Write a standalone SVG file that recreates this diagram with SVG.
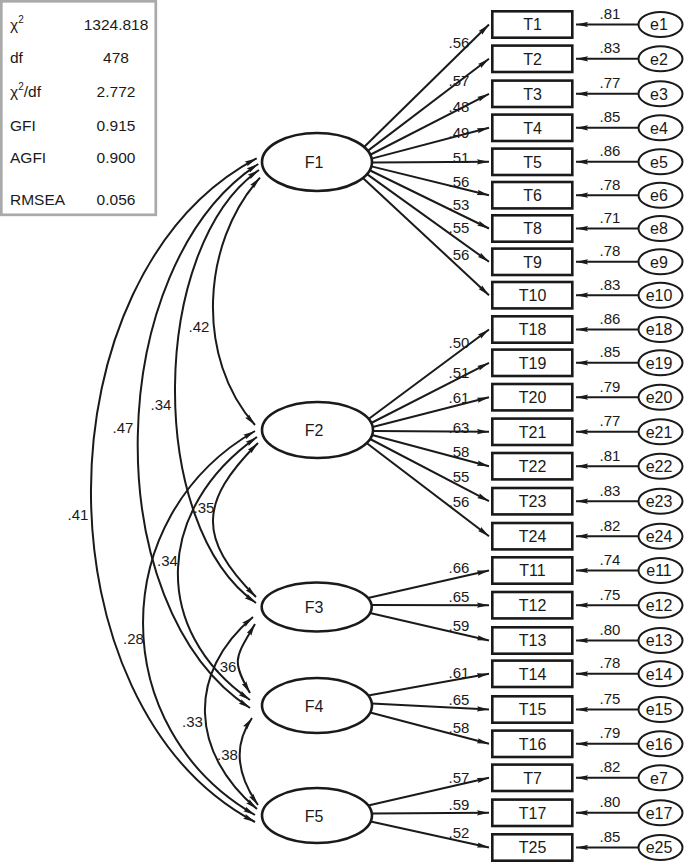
<svg xmlns="http://www.w3.org/2000/svg" width="685" height="863" viewBox="0 0 685 863">
<style>
text{font-family:"Liberation Sans",Arial,sans-serif;fill:#1a1a1a}
.lbl{font-size:16px;text-anchor:middle}
.coef{font-size:15px;text-anchor:middle}
.st{font-size:15.5px}
.box{fill:#fff;stroke:#1a1a1a;stroke-width:2.6}
.err{fill:#fff;stroke:#1a1a1a;stroke-width:2}
.fac{fill:#fff;stroke:#1a1a1a;stroke-width:2.6}
.cn{fill:none;stroke:#1a1a1a;stroke-width:2;marker-end:url(#ah)}
.cv{fill:none;stroke:#1a1a1a;stroke-width:2;marker-end:url(#ah);marker-start:url(#ah)}
</style>
<defs>
<marker id="ah" viewBox="0 0 12 6" refX="12" refY="3" markerWidth="12" markerHeight="6" markerUnits="userSpaceOnUse" orient="auto-start-reverse">
<path d="M0,0.4 L12,3 L0,5.6 L1.5,3 z" fill="#1a1a1a"/>
</marker>
</defs>
<rect width="685" height="863" fill="#fff"/>

<g id="fit-stats">
<rect x="1.3" y="1.3" width="154.5" height="213.5" fill="#fff" stroke="#aaaaaa" stroke-width="2.7"/>
<text class="st" x="10" y="30">χ<tspan dy="-7" font-size="10">2</tspan></text>
<text class="st" x="116" y="30" text-anchor="middle">1324.818</text>
<text class="st" x="10" y="63">df</text>
<text class="st" x="116" y="63" text-anchor="middle">478</text>
<text class="st" x="10" y="97">χ<tspan dy="-7" font-size="10">2</tspan><tspan dy="7">/df</tspan></text>
<text class="st" x="116" y="97" text-anchor="middle">2.772</text>
<text class="st" x="10" y="131">GFI</text>
<text class="st" x="116" y="131" text-anchor="middle">0.915</text>
<text class="st" x="10" y="163">AGFI</text>
<text class="st" x="116" y="163" text-anchor="middle">0.900</text>
<text class="st" x="10" y="205">RMSEA</text>
<text class="st" x="116" y="205" text-anchor="middle">0.056</text>
</g>

<g id="connectors">
<!-- loadings F1 -->
<path class="cn" d="M364.1,147 L489,24.5"/>
<path class="cn" d="M367.8,150.9 L489,58.8"/>
<path class="cn" d="M370.3,154.75 L489,93.8"/>
<path class="cn" d="M371.6,158.6 L489,127.8"/>
<path class="cn" d="M372,162.5 L489,161.8"/>
<path class="cn" d="M371.4,166.4 L489,195.2"/>
<path class="cn" d="M369.7,170.25 L489,228.5"/>
<path class="cn" d="M367,174.1 L489,261.8"/>
<path class="cn" d="M362.9,178 L489,295.2"/>
<!-- loadings F2 -->
<path class="cn" d="M368.6,419 L489,329.5"/>
<path class="cn" d="M371.2,423 L489,362.8"/>
<path class="cn" d="M372.7,427 L489,397.2"/>
<path class="cn" d="M373,431 L489,431.8"/>
<path class="cn" d="M372.1,435 L489,466.2"/>
<path class="cn" d="M370.1,439 L489,501.2"/>
<path class="cn" d="M366.6,443 L489,536.2"/>
<!-- loadings F3 -->
<path class="cn" d="M367.9,598 L489,570.5"/>
<path class="cn" d="M371.5,605 L489,605.2"/>
<path class="cn" d="M370,613 L489,640.5"/>
<!-- loadings F4 -->
<path class="cn" d="M368.2,695.5 L489,673.8"/>
<path class="cn" d="M371.7,703.5 L489,709.5"/>
<path class="cn" d="M370.2,712.5 L489,743.8"/>
<!-- loadings F5 -->
<path class="cn" d="M368.2,805.5 L489,777.8"/>
<path class="cn" d="M371.7,813.5 L489,812.8"/>
<path class="cn" d="M370.7,821.5 L489,847.5"/>

<!-- error arrows -->
<path class="cn" d="M638.5,24.5 L576,24.5"/>
<path class="cn" d="M638.5,58.8 L576,58.8"/>
<path class="cn" d="M638.5,93.8 L576,93.8"/>
<path class="cn" d="M638.5,127.8 L576,127.8"/>
<path class="cn" d="M638.5,161.8 L576,161.8"/>
<path class="cn" d="M638.5,195.2 L576,195.2"/>
<path class="cn" d="M638.5,228.5 L576,228.5"/>
<path class="cn" d="M638.5,261.8 L576,261.8"/>
<path class="cn" d="M638.5,295.2 L576,295.2"/>
<path class="cn" d="M638.5,329.5 L576,329.5"/>
<path class="cn" d="M638.5,362.8 L576,362.8"/>
<path class="cn" d="M638.5,397.2 L576,397.2"/>
<path class="cn" d="M638.5,431.8 L576,431.8"/>
<path class="cn" d="M638.5,466.2 L576,466.2"/>
<path class="cn" d="M638.5,501.2 L576,501.2"/>
<path class="cn" d="M638.5,536.2 L576,536.2"/>
<path class="cn" d="M638.5,570.5 L576,570.5"/>
<path class="cn" d="M638.5,605.2 L576,605.2"/>
<path class="cn" d="M638.5,640.5 L576,640.5"/>
<path class="cn" d="M638.5,673.8 L576,673.8"/>
<path class="cn" d="M638.5,709.5 L576,709.5"/>
<path class="cn" d="M638.5,743.8 L576,743.8"/>
<path class="cn" d="M638.5,777.8 L576,777.8"/>
<path class="cn" d="M638.5,812.8 L576,812.8"/>
<path class="cn" d="M638.5,847.5 L576,847.5"/>

<!-- covariances -->
<path class="cv" d="M256.7,158.3 C37,275 35,705 255,822"/>
<path class="cv" d="M258.3,164 C103,265 95,607 250,708"/>
<path class="cv" d="M259,170 C149,247 146,526 256,603"/>
<path class="cv" d="M260,177.7 C200.7,243.7 195.7,359 255,425"/>
<path class="cv" d="M258,443 C199.3,501.7 197.3,538.3 256,597"/>
<path class="cv" d="M257,437 C156.3,507.5 149.3,629.5 250,700"/>
<path class="cv" d="M255,431 C105.7,517 105.7,729 255,815"/>
<path class="cv" d="M255,624 C235.7,657.5 230.7,659.5 250,693"/>
<path class="cv" d="M253,617 C186.3,673 190.3,753 257,809"/>
<path class="cv" d="M252,718 C232,746.6 238,776.4 258,805"/>

<!-- loading labels -->
<text class="coef" x="459" y="48">.56</text>
<text class="coef" x="459" y="86">.57</text>
<text class="coef" x="459" y="111.7">.48</text>
<text class="coef" x="459" y="138">.49</text>
<text class="coef" x="459" y="163">.51</text>
<text class="coef" x="459" y="186.7">.56</text>
<text class="coef" x="459" y="210">.53</text>
<text class="coef" x="459" y="233">.55</text>
<text class="coef" x="459" y="260">.56</text>
<text class="coef" x="459" y="348">.50</text>
<text class="coef" x="459" y="378">.51</text>
<text class="coef" x="459" y="403">.61</text>
<text class="coef" x="459" y="433">.63</text>
<text class="coef" x="459" y="456.7">.58</text>
<text class="coef" x="459" y="481.7">.55</text>
<text class="coef" x="459" y="506.7">.56</text>
<text class="coef" x="459" y="572.7">.66</text>
<text class="coef" x="459" y="601.7">.65</text>
<text class="coef" x="459" y="631">.59</text>
<text class="coef" x="459" y="678.3">.61</text>
<text class="coef" x="459" y="705">.65</text>
<text class="coef" x="459" y="732.7">.58</text>
<text class="coef" x="459" y="783.3">.57</text>
<text class="coef" x="459" y="810">.59</text>
<text class="coef" x="459" y="838.3">.52</text>

<!-- error labels -->
<text class="coef" x="610" y="19">.81</text>
<text class="coef" x="610" y="53.3">.83</text>
<text class="coef" x="610" y="88.3">.77</text>
<text class="coef" x="610" y="122.3">.85</text>
<text class="coef" x="610" y="156.3">.86</text>
<text class="coef" x="610" y="189.7">.78</text>
<text class="coef" x="610" y="223">.71</text>
<text class="coef" x="610" y="256.3">.78</text>
<text class="coef" x="610" y="289.7">.83</text>
<text class="coef" x="610" y="324">.86</text>
<text class="coef" x="610" y="357.3">.85</text>
<text class="coef" x="610" y="391.7">.79</text>
<text class="coef" x="610" y="426.3">.77</text>
<text class="coef" x="610" y="460.7">.81</text>
<text class="coef" x="610" y="495.7">.83</text>
<text class="coef" x="610" y="530.7">.82</text>
<text class="coef" x="610" y="565">.74</text>
<text class="coef" x="610" y="599.7">.75</text>
<text class="coef" x="610" y="635">.80</text>
<text class="coef" x="610" y="668.3">.78</text>
<text class="coef" x="610" y="704">.75</text>
<text class="coef" x="610" y="738.3">.79</text>
<text class="coef" x="610" y="772.3">.82</text>
<text class="coef" x="610" y="807.3">.80</text>
<text class="coef" x="610" y="842">.85</text>

<!-- covariance labels -->
<text class="coef" x="78" y="520">.41</text>
<text class="coef" x="123" y="433">.47</text>
<text class="coef" x="161" y="410">.34</text>
<text class="coef" x="199" y="332">.42</text>
<text class="coef" x="204" y="513">.35</text>
<text class="coef" x="167.5" y="566">.34</text>
<text class="coef" x="133.5" y="644">.28</text>
<text class="coef" x="226" y="672">.36</text>
<text class="coef" x="192.5" y="727">.33</text>
<text class="coef" x="227.5" y="760">.38</text>
</g>

<g id="F1"><ellipse class="fac" cx="317" cy="162" rx="55" ry="29"/><text class="lbl" x="314" y="168">F1</text></g>
<g id="F2"><ellipse class="fac" cx="317.5" cy="430" rx="55.5" ry="28"/><text class="lbl" x="314" y="436">F2</text></g>
<g id="F3"><ellipse class="fac" cx="316.7" cy="607" rx="55" ry="24.5"/><text class="lbl" x="314" y="613">F3</text></g>
<g id="F4"><ellipse class="fac" cx="317" cy="705.5" rx="55" ry="27.5"/><text class="lbl" x="314" y="711.5">F4</text></g>
<g id="F5"><ellipse class="fac" cx="317" cy="815.5" rx="55" ry="27.5"/><text class="lbl" x="314" y="821.5">F5</text></g>

<g id="T1"><rect class="box" x="492.3" y="11.3" width="80" height="26.4"/><text class="lbl" x="532.5" y="30.2">T1</text></g>
<g id="T2"><rect class="box" x="492.3" y="45.6" width="80" height="26.4"/><text class="lbl" x="532.5" y="64.5">T2</text></g>
<g id="T3"><rect class="box" x="492.3" y="80.6" width="80" height="26.4"/><text class="lbl" x="532.5" y="99.5">T3</text></g>
<g id="T4"><rect class="box" x="492.3" y="114.6" width="80" height="26.4"/><text class="lbl" x="532.5" y="133.5">T4</text></g>
<g id="T5"><rect class="box" x="492.3" y="148.6" width="80" height="26.4"/><text class="lbl" x="532.5" y="167.5">T5</text></g>
<g id="T6"><rect class="box" x="492.3" y="182" width="80" height="26.4"/><text class="lbl" x="532.5" y="200.9">T6</text></g>
<g id="T8"><rect class="box" x="492.3" y="215.3" width="80" height="26.4"/><text class="lbl" x="532.5" y="234.2">T8</text></g>
<g id="T9"><rect class="box" x="492.3" y="248.6" width="80" height="26.4"/><text class="lbl" x="532.5" y="267.5">T9</text></g>
<g id="T10"><rect class="box" x="492.3" y="282" width="80" height="26.4"/><text class="lbl" x="532.5" y="300.9">T10</text></g>
<g id="T18"><rect class="box" x="492.3" y="316.3" width="80" height="26.4"/><text class="lbl" x="532.5" y="335.2">T18</text></g>
<g id="T19"><rect class="box" x="492.3" y="349.6" width="80" height="26.4"/><text class="lbl" x="532.5" y="368.5">T19</text></g>
<g id="T20"><rect class="box" x="492.3" y="384" width="80" height="26.4"/><text class="lbl" x="532.5" y="402.9">T20</text></g>
<g id="T21"><rect class="box" x="492.3" y="418.6" width="80" height="26.4"/><text class="lbl" x="532.5" y="437.5">T21</text></g>
<g id="T22"><rect class="box" x="492.3" y="453" width="80" height="26.4"/><text class="lbl" x="532.5" y="471.9">T22</text></g>
<g id="T23"><rect class="box" x="492.3" y="488" width="80" height="26.4"/><text class="lbl" x="532.5" y="506.9">T23</text></g>
<g id="T24"><rect class="box" x="492.3" y="523" width="80" height="26.4"/><text class="lbl" x="532.5" y="541.9">T24</text></g>
<g id="T11"><rect class="box" x="492.3" y="557.3" width="80" height="26.4"/><text class="lbl" x="532.5" y="576.2">T11</text></g>
<g id="T12"><rect class="box" x="492.3" y="592" width="80" height="26.4"/><text class="lbl" x="532.5" y="610.9">T12</text></g>
<g id="T13"><rect class="box" x="492.3" y="627.3" width="80" height="26.4"/><text class="lbl" x="532.5" y="646.2">T13</text></g>
<g id="T14"><rect class="box" x="492.3" y="660.6" width="80" height="26.4"/><text class="lbl" x="532.5" y="679.5">T14</text></g>
<g id="T15"><rect class="box" x="492.3" y="696.3" width="80" height="26.4"/><text class="lbl" x="532.5" y="715.2">T15</text></g>
<g id="T16"><rect class="box" x="492.3" y="730.6" width="80" height="26.4"/><text class="lbl" x="532.5" y="749.5">T16</text></g>
<g id="T7"><rect class="box" x="492.3" y="764.6" width="80" height="26.4"/><text class="lbl" x="532.5" y="783.5">T7</text></g>
<g id="T17"><rect class="box" x="492.3" y="799.6" width="80" height="26.4"/><text class="lbl" x="532.5" y="818.5">T17</text></g>
<g id="T25"><rect class="box" x="492.3" y="834.3" width="80" height="26.4"/><text class="lbl" x="532.5" y="853.2">T25</text></g>

<g id="e1"><ellipse class="err" cx="660.5" cy="24.5" rx="22" ry="12.5"/><text class="lbl" x="659" y="30.2">e1</text></g>
<g id="e2"><ellipse class="err" cx="660.5" cy="58.8" rx="22" ry="12.5"/><text class="lbl" x="659" y="64.5">e2</text></g>
<g id="e3"><ellipse class="err" cx="660.5" cy="93.8" rx="22" ry="12.5"/><text class="lbl" x="659" y="99.5">e3</text></g>
<g id="e4"><ellipse class="err" cx="660.5" cy="127.8" rx="22" ry="12.5"/><text class="lbl" x="659" y="133.5">e4</text></g>
<g id="e5"><ellipse class="err" cx="660.5" cy="161.8" rx="22" ry="12.5"/><text class="lbl" x="659" y="167.5">e5</text></g>
<g id="e6"><ellipse class="err" cx="660.5" cy="195.2" rx="22" ry="12.5"/><text class="lbl" x="659" y="200.9">e6</text></g>
<g id="e8"><ellipse class="err" cx="660.5" cy="228.5" rx="22" ry="12.5"/><text class="lbl" x="659" y="234.2">e8</text></g>
<g id="e9"><ellipse class="err" cx="660.5" cy="261.8" rx="22" ry="12.5"/><text class="lbl" x="659" y="267.5">e9</text></g>
<g id="e10"><ellipse class="err" cx="660.5" cy="295.2" rx="22" ry="12.5"/><text class="lbl" x="659" y="300.9">e10</text></g>
<g id="e18"><ellipse class="err" cx="660.5" cy="329.5" rx="22" ry="12.5"/><text class="lbl" x="659" y="335.2">e18</text></g>
<g id="e19"><ellipse class="err" cx="660.5" cy="362.8" rx="22" ry="12.5"/><text class="lbl" x="659" y="368.5">e19</text></g>
<g id="e20"><ellipse class="err" cx="660.5" cy="397.2" rx="22" ry="12.5"/><text class="lbl" x="659" y="402.9">e20</text></g>
<g id="e21"><ellipse class="err" cx="660.5" cy="431.8" rx="22" ry="12.5"/><text class="lbl" x="659" y="437.5">e21</text></g>
<g id="e22"><ellipse class="err" cx="660.5" cy="466.2" rx="22" ry="12.5"/><text class="lbl" x="659" y="471.9">e22</text></g>
<g id="e23"><ellipse class="err" cx="660.5" cy="501.2" rx="22" ry="12.5"/><text class="lbl" x="659" y="506.9">e23</text></g>
<g id="e24"><ellipse class="err" cx="660.5" cy="536.2" rx="22" ry="12.5"/><text class="lbl" x="659" y="541.9">e24</text></g>
<g id="e11"><ellipse class="err" cx="660.5" cy="570.5" rx="22" ry="12.5"/><text class="lbl" x="659" y="576.2">e11</text></g>
<g id="e12"><ellipse class="err" cx="660.5" cy="605.2" rx="22" ry="12.5"/><text class="lbl" x="659" y="610.9">e12</text></g>
<g id="e13"><ellipse class="err" cx="660.5" cy="640.5" rx="22" ry="12.5"/><text class="lbl" x="659" y="646.2">e13</text></g>
<g id="e14"><ellipse class="err" cx="660.5" cy="673.8" rx="22" ry="12.5"/><text class="lbl" x="659" y="679.5">e14</text></g>
<g id="e15"><ellipse class="err" cx="660.5" cy="709.5" rx="22" ry="12.5"/><text class="lbl" x="659" y="715.2">e15</text></g>
<g id="e16"><ellipse class="err" cx="660.5" cy="743.8" rx="22" ry="12.5"/><text class="lbl" x="659" y="749.5">e16</text></g>
<g id="e7"><ellipse class="err" cx="660.5" cy="777.8" rx="22" ry="12.5"/><text class="lbl" x="659" y="783.5">e7</text></g>
<g id="e17"><ellipse class="err" cx="660.5" cy="812.8" rx="22" ry="12.5"/><text class="lbl" x="659" y="818.5">e17</text></g>
<g id="e25"><ellipse class="err" cx="660.5" cy="847.5" rx="22" ry="12.5"/><text class="lbl" x="659" y="853.2">e25</text></g>
</svg>
